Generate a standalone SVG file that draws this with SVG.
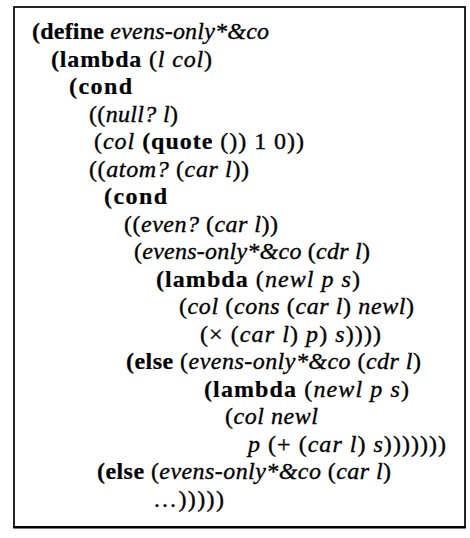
<svg xmlns="http://www.w3.org/2000/svg" width="470" height="538" viewBox="0 0 470 538">
<style>
text{font-family:"Liberation Serif","Times New Roman",serif;font-size:24px;fill:#000;stroke:#000;stroke-width:0.35px;white-space:pre}
.k{font-weight:bold;stroke-width:0.2px}
.i{font-style:italic}
</style>
<rect x="0" y="0" width="470" height="538" fill="#fff"/>
<g id="frame" fill="none" stroke="#000">
<rect x="14" y="7" width="451" height="520" stroke-width="1.7"/>
<path d="M13.2 527.3H465.8" stroke-width="2.6"/>
</g>
<g id="code">
<text x="32" y="39" textLength="237" lengthAdjust="spacing"><tspan class="k">(define</tspan> <tspan class="i">evens-only*&amp;co</tspan></text>
<text x="51" y="66.5" textLength="161" lengthAdjust="spacing"><tspan class="k">(lambda</tspan> (<tspan class="i">l col</tspan>)</text>
<text x="69" y="94" textLength="63" lengthAdjust="spacing"><tspan class="k">(cond</tspan></text>
<text x="89" y="121.5" textLength="89" lengthAdjust="spacing">((<tspan class="i">null? l</tspan>)</text>
<text x="94" y="149" textLength="210" lengthAdjust="spacing">(<tspan class="i">col</tspan> <tspan class="k">(quote</tspan> ()) 1 0))</text>
<text x="89" y="176.5" textLength="160" lengthAdjust="spacing">((<tspan class="i">atom?</tspan> (<tspan class="i">car l</tspan>))</text>
<text x="104" y="204" textLength="63" lengthAdjust="spacing"><tspan class="k">(cond</tspan></text>
<text x="124" y="231.5" textLength="154" lengthAdjust="spacing">((<tspan class="i">even?</tspan> (<tspan class="i">car l</tspan>))</text>
<text x="134" y="259" textLength="236" lengthAdjust="spacing">(<tspan class="i">evens-only*&amp;co</tspan> (<tspan class="i">cdr l</tspan>)</text>
<text x="156" y="286.5" textLength="204" lengthAdjust="spacing"><tspan class="k">(lambda</tspan> (<tspan class="i">newl p s</tspan>)</text>
<text x="179" y="314" textLength="235" lengthAdjust="spacing">(<tspan class="i">col</tspan> (<tspan class="i">cons</tspan> (<tspan class="i">car l</tspan>) <tspan class="i">newl</tspan>)</text>
<text x="200" y="341.5" textLength="181" lengthAdjust="spacing">(× (<tspan class="i">car l</tspan>) <tspan class="i">p</tspan>) <tspan class="i">s</tspan>))))</text>
<text x="126" y="369" textLength="295" lengthAdjust="spacing"><tspan class="k">(else</tspan> (<tspan class="i">evens-only*&amp;co</tspan> (<tspan class="i">cdr l</tspan>)</text>
<text x="204" y="396.5" textLength="205" lengthAdjust="spacing"><tspan class="k">(lambda</tspan> (<tspan class="i">newl p s</tspan>)</text>
<text x="225" y="424" textLength="93" lengthAdjust="spacing">(<tspan class="i">col newl</tspan></text>
<text x="248" y="451.5" textLength="198" lengthAdjust="spacing"><tspan class="i">p</tspan> (+ (<tspan class="i">car l</tspan>) <tspan class="i">s</tspan>)))))))</text>
<text x="97" y="479" textLength="294" lengthAdjust="spacing"><tspan class="k">(else</tspan> (<tspan class="i">evens-only*&amp;co</tspan> (<tspan class="i">car l</tspan>)</text>
<text x="153" y="506.5" textLength="71" lengthAdjust="spacing">…)))))</text>
</g>
</svg>
